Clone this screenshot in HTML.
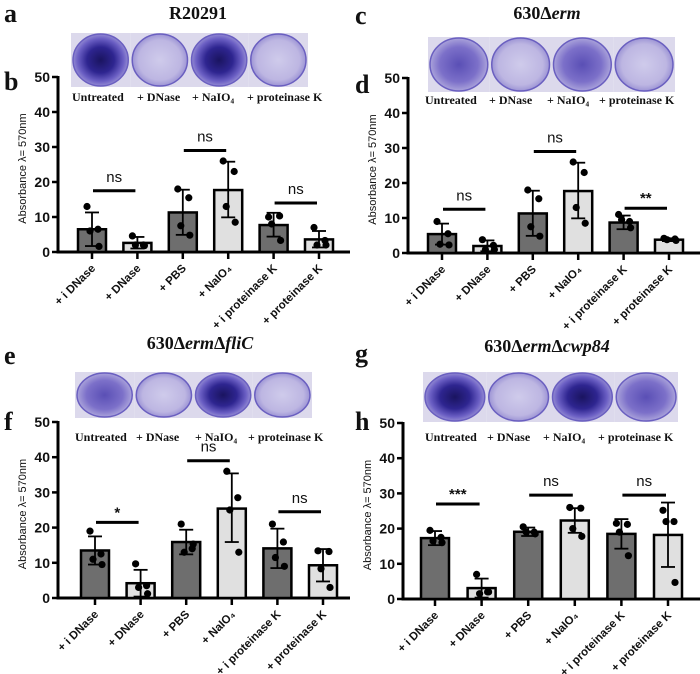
<!DOCTYPE html>
<html><head><meta charset="utf-8">
<style>
html,body{margin:0;padding:0;background:#fff;}
svg{display:block;}
.tick{font-family:"Liberation Sans",Arial,sans-serif;font-weight:bold;font-size:14px;fill:#111;}
.xl{font-family:"Liberation Sans",Arial,sans-serif;font-weight:bold;font-size:11.5px;fill:#111;}
.yt{font-family:"Liberation Sans",Arial,sans-serif;font-size:11px;fill:#111;}
.ttl{font-family:"Liberation Serif","Times New Roman",serif;font-weight:bold;font-size:18px;fill:#111;}
.let{font-family:"Liberation Serif","Times New Roman",serif;font-weight:bold;font-size:26px;fill:#111;}
.wl{font-family:"Liberation Serif","Times New Roman",serif;font-weight:bold;font-size:12px;fill:#111;}
.sig{font-family:"Liberation Sans",Arial,sans-serif;font-size:15px;fill:#111;}
</style></head>
<body>
<svg id="fig" width="700" height="674" viewBox="0 0 700 674" xmlns="http://www.w3.org/2000/svg">
<defs>
<radialGradient id="gDark" cx="50%" cy="50%" r="55%"><stop offset="0" stop-color="#1a1460"/><stop offset="0.45" stop-color="#2e2590"/><stop offset="0.75" stop-color="#6b5fc4"/><stop offset="1" stop-color="#a9a2da"/></radialGradient>
<radialGradient id="gMid" cx="50%" cy="50%" r="55%"><stop offset="0" stop-color="#5a4fb5"/><stop offset="0.6" stop-color="#7c70c9"/><stop offset="1" stop-color="#b8b2e0"/></radialGradient>
<radialGradient id="gLight" cx="50%" cy="50%" r="55%"><stop offset="0" stop-color="#cfcbeb"/><stop offset="0.7" stop-color="#bdb6e2"/><stop offset="1" stop-color="#8f86cf"/></radialGradient>
</defs>
</svg>
<script>
// ---- Chart data ----
var categories = ["+ i DNase","+ DNase","+ PBS","+ NaIO\u2084","+ i proteinase K","+ proteinase K"];
var yTicks = [0,10,20,30,40,50];
var wellLabels = ["Untreated","+ DNase","+ NaIO\u2084","+ proteinase K"];

var meansB = [6.5,2.6,11.3,17.7,7.7,3.6];
var errHiB = [11.3,4.3,17.8,25.8,11.2,6.0];
var errLoB = [1.7,1.0,4.9,9.9,4.4,1.3];
var ptsB = [[13,6.5,6,1.6],[4.6,2,2,1.8],[18,15.5,7.5,4.8],[26,23,13,8.5],[10,10.3,8,3.3],[7,3.3,2,2]];
var sigB = [[0,1,17.5,"ns"],[2,3,29,"ns"],[4,5,14,"ns"]];

var meansD = [5.4,2.0,11.3,17.7,8.7,3.8];
var errHiD = [8.4,3.6,17.8,25.8,10.7,4.2];
var errLoD = [2.4,0.5,4.9,9.9,6.8,3.4];
var ptsD = [[9,5.5,2.5,2.3],[3.8,2.2,1,1],[18,15.5,7.5,4.8],[26,23,13,8.5],[11,9,9.5,7.2],[4.2,4,3.8,3.6]];
var sigD = [[0,1,12.5,"ns"],[2,3,29,"ns"],[4,5,12.8,"**"]];

var meansF = [13.5,4.2,15.9,25.4,14.1,9.3];
var errHiF = [17.5,8.0,19.4,35.4,19.7,13.9];
var errLoF = [9.5,0.4,12.4,15.9,8.5,4.7];
var ptsF = [[19,12.5,11,9.5],[9.7,3.5,3,1.2],[21,14,13,15.3],[36,28.5,25,13],[21,15.9,11.5,9],[13.4,13.2,8.3,3]];
var sigF = [[0,1,21.5,"*"],[2,3,39,"ns"],[4,5,24.5,"ns"]];

var meansH = [17.3,3.1,19.1,22.3,18.5,18.2];
var errHiH = [19.3,5.8,20.3,25.8,22.7,27.4];
var errLoH = [15.3,0.4,17.9,18.8,14.3,9.1];
var ptsH = [[19.5,17.5,16.5,16],[7,2,1.5,2],[20.5,19,19,18.5],[26,25.8,20,17.8],[21.5,21.2,19,12.3],[25.2,22,22,4.7]];
var sigH = [[0,1,27,"***"],[2,3,29.5,"ns"],[4,5,29.5,"ns"]];

var NS = "http://www.w3.org/2000/svg";
var svg = document.getElementById("fig");
function mk(tag, attrs, parent, text){
  var e = document.createElementNS(NS, tag);
  for (var k in attrs) e.setAttribute(k, attrs[k]);
  if (text !== undefined) e.textContent = text;
  (parent || svg).appendChild(e);
  return e;
}

var panels = [
  {key:"b", top:"a", bot:"b", title:["R20291"], tx:198, ty:19, lx:4, ly:22, bx:4, by:90,
   ax:58, y50:77, y0:252, xEnd:350, c0:92, step:45.4, img:[71,33,237,54], wly:101, wlx:[72,137,192,247],
   means:meansB, hi:errHiB, lo:errLoB, pts:ptsB, sig:sigB, wells:["gDark","gLight","gDark","gLight"]},
  {key:"d", top:"c", bot:"d", title:["630\u0394","erm"], tx:547, ty:19, lx:355, ly:24, bx:355, by:93,
   ax:408, y50:78, y0:253, xEnd:700, c0:442, step:45.4, img:[428,37,247,55], wly:104, wlx:[425,489,547,599],
   means:meansD, hi:errHiD, lo:errLoD, pts:ptsD, sig:sigD, wells:["gMid","gLight","gMid","gLight"]},
  {key:"f", top:"e", bot:"f", title:["630\u0394","erm","\u0394","fliC"], tx:200, ty:349, lx:4, ly:364, bx:4, by:430,
   ax:58, y50:422, y0:598, xEnd:350, c0:95, step:45.6, img:[75,372,237,46], wly:441, wlx:[75,136,195,248],
   means:meansF, hi:errHiF, lo:errLoF, pts:ptsF, sig:sigF, wells:["gMid","gLight","gDark","gLight"]},
  {key:"h", top:"g", bot:"h", title:["630\u0394","erm","\u0394","cwp84"], tx:547, ty:352, lx:355, ly:362, bx:355, by:430,
   ax:403, y50:423, y0:599, xEnd:700, c0:435, step:46.6, img:[423,372,255,50], wly:441, wlx:[425,487,543,598],
   means:meansH, hi:errHiH, lo:errLoH, pts:ptsH, sig:sigH, wells:["gDark","gLight","gDark","gMid"]}
];
var jit = [-5,6,-2,7];

panels.forEach(function(p){
  var g = mk("g", {});
  
  
  function Y(v){ return p.y0 - (v/50)*(p.y0 - p.y50); }
  function X(i){ return p.c0 + i*p.step; }

  var lt = mk("text", {x:p.lx, y:p.ly, "class":"let"}, g, p.top);
  
  
  var lb = mk("text", {x:p.bx, y:p.by, "class":"let"}, g, p.bot);
  
  

  var t = mk("text", {x:p.tx, y:p.ty, "class":"ttl", "text-anchor":"middle"}, g);
  
  
  p.title.forEach(function(s, i){ mk("tspan", (i%2===1)?{"font-style":"italic"}:{}, t, s); });

  var wg = mk("g", {}, g);
  
  
  var iw = p.img[2]/4;
  for (var w=0; w<4; w++){
    var x0 = p.img[0] + w*iw;
    mk("rect", {x:x0, y:p.img[1], width:iw, height:p.img[3], fill:"#dcd9ec"}, wg);
    mk("ellipse", {cx:x0+iw/2, cy:p.img[1]+p.img[3]/2, rx:iw/2-2, ry:p.img[3]/2-1, fill:"url(#"+p.wells[w]+")", stroke:"#6a5fc0", "stroke-width":1.5}, wg);
    var wt = mk("text", {x:p.wlx[w], y:p.wly, "class":"wl"}, g, wellLabels[w]);
    
    
  }

  var axis = mk("g", {}, g);
  
  
  mk("line", {x1:p.ax, y1:Y(50)-1, x2:p.ax, y2:p.y0+1.5, stroke:"#000", "stroke-width":3}, axis);
  yTicks.forEach(function(v){
    mk("line", {x1:p.ax-6, y1:Y(v), x2:p.ax, y2:Y(v), stroke:"#000", "stroke-width":2.5}, axis);
    var tl = mk("text", {x:p.ax-8, y:Y(v)+5, "class":"tick", "text-anchor":"end"}, axis, String(v));
    
    
  });
  var yt = mk("text", {x:0, y:0, "class":"yt", "text-anchor":"middle", transform:"translate("+(p.ax-32)+","+((Y(0)+Y(50))/2+4)+") rotate(-90)"}, g, "Absorbance \u03bb= 570nm");
  
  
  var xa = mk("line", {x1:p.ax, y1:p.y0, x2:p.xEnd, y2:p.y0, stroke:"#000", "stroke-width":3}, g);
  
  

  categories.forEach(function(c, i){
    var cx = X(i);
    var bar = mk("rect", {x:cx-14, y:Y(p.means[i]), width:28, height:p.y0-Y(p.means[i]), fill:(i%2===0)?"#6e6e6e":"#e0e0e0", stroke:"#000", "stroke-width":2.5}, g);
    
    
    var eb = mk("g", {}, g);
    
    
    mk("line", {x1:cx, y1:Y(p.hi[i]), x2:cx, y2:Y(p.lo[i]), stroke:"#000", "stroke-width":1.8}, eb);
    mk("line", {x1:cx-7, y1:Y(p.hi[i]), x2:cx+7, y2:Y(p.hi[i]), stroke:"#000", "stroke-width":1.8}, eb);
    mk("line", {x1:cx-7, y1:Y(p.lo[i]), x2:cx+7, y2:Y(p.lo[i]), stroke:"#000", "stroke-width":1.8}, eb);
    p.pts[i].forEach(function(v, j){
      var pt = mk("circle", {cx:cx+jit[j], cy:Y(v), r:3.6, fill:"#000"}, g);
      
      
    });
    mk("line", {x1:cx, y1:p.y0, x2:cx, y2:p.y0+7, stroke:"#000", "stroke-width":2.5}, g);
    var xl = mk("text", {x:0, y:0, "class":"xl", "text-anchor":"end", transform:"translate("+(cx+4)+","+(p.y0+17)+") rotate(-45)"}, g, c);
    
    
  });

  p.sig.forEach(function(s){
    var sg = mk("g", {}, g);
    
    
    var x1 = X(s[0]) + 1, x2 = X(s[1]) - 2, yy = Y(s[2]);
    mk("line", {x1:x1, y1:yy, x2:x2, y2:yy, stroke:"#000", "stroke-width":3}, sg);
    var isStar = s[3].indexOf("*") >= 0;
    mk("text", {x:(x1+x2)/2, y:isStar ? yy-5 : yy-9, "class":"sig", "text-anchor":"middle", "font-weight":isStar?"bold":"normal", "font-size":isStar?"17px":"15px"}, sg, s[3]);
  });
});
</script>
</body></html>
